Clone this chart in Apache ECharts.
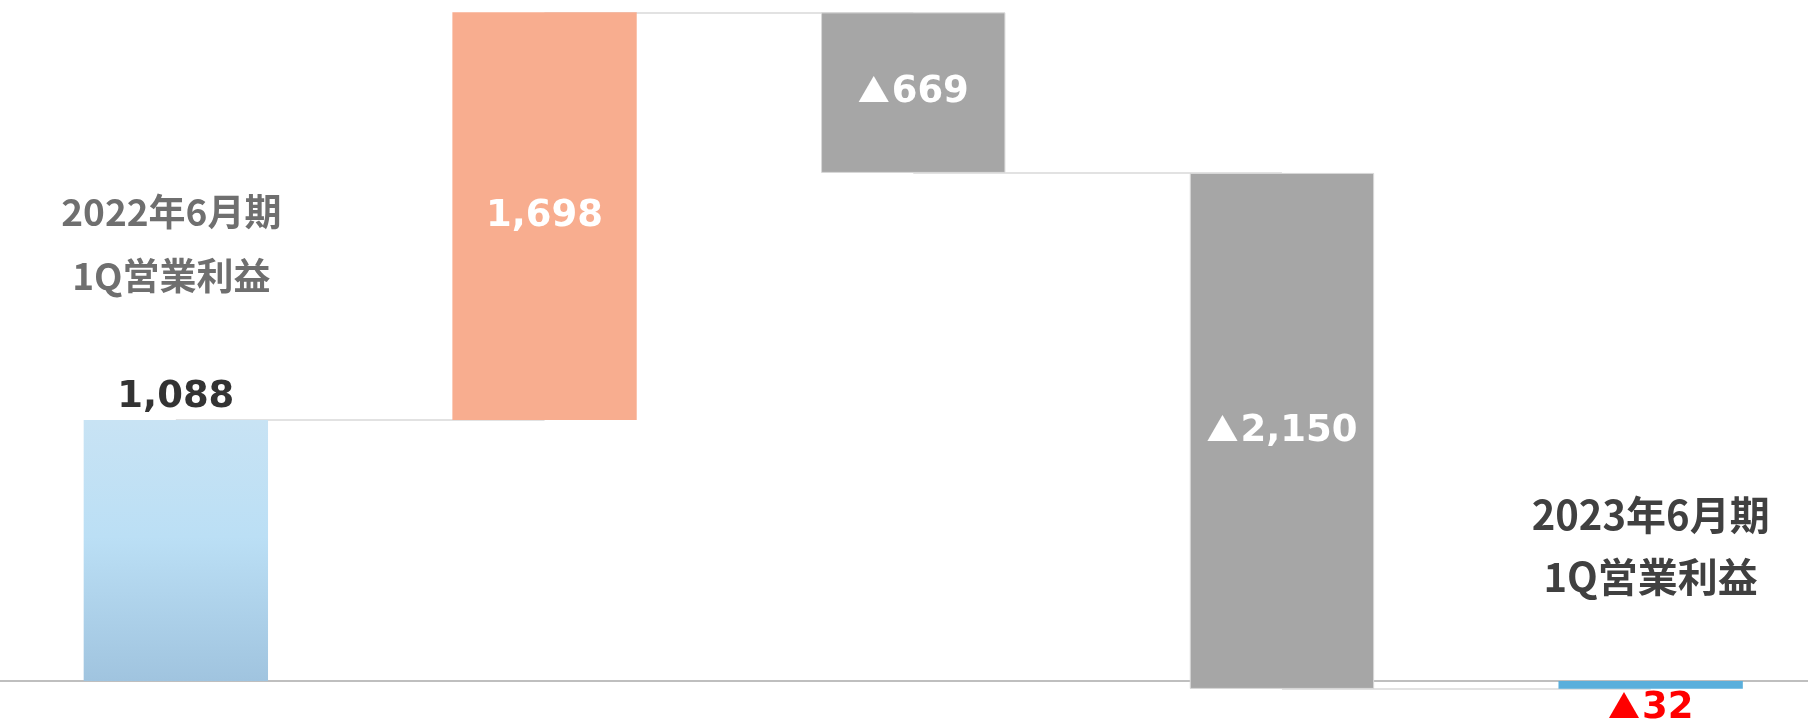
<!DOCTYPE html>
<html>
<head>
<meta charset="utf-8">
<style>
  html, body { margin: 0; padding: 0; background: #fff; }
  #chart { width: 1808px; height: 722px; }
</style>
<script src="https://cdn.jsdelivr.net/npm/echarts@6/dist/echarts.min.js"></script>
</head>
<body>
<div id="chart"></div>
<script>
// 営業利益の増減（百万円）
var categories = ['2022年6月期\n1Q営業利益', '増益要因', '減益要因A', '減益要因B', '2023年6月期\n1Q営業利益'];
var values = [1088, 1698, -669, -2150, -32];
var isTotal = [true, false, false, false, true];

var barColors = [
	{ type: 'linear', x: 0, y: 0, x2: 0, y2: 1, colorStops: [
		{ offset: 0, color: '#c8e3f4' }, { offset: 0.45, color: '#bbdff5' }, { offset: 1, color: '#a0c4df' }] },
	'#f8ad8f', '#a6a6a6', '#a6a6a6', '#5aafdc'
];

// マイナスは ▲ 表記
function fmt(v) {
	var s = Math.abs(v).toString().replace(/\B(?=(\d{3})+(?!\d))/g, ',');
	return v < 0 ? '{t|▲}{n|' + s + '}' : '{n|' + s + '}';
}

// 積み上げ用の下駄と見える棒
var baseData = [], barData = [], levels = [];
var running = 0;
for (var i = 0; i < values.length; i++) {
	if (isTotal[i]) {
		baseData.push(0);
		barData.push(values[i]);
		running = values[i];
	} else {
		var next = running + values[i];
		baseData.push(Math.min(running, next));
		barData.push(Math.abs(values[i]));
		running = next;
	}
	levels.push(running);
}
var connectors = [];
for (var j = 0; j < values.length - 1; j++) {
	connectors.push([{ coord: [j, levels[j]] }, { coord: [j + 1, levels[j]] }]);
}

function numRich(color) {
	return {
		t: { color: color, fontFamily: 'Noto Sans CJK JP', fontSize: 32, padding: [0, 2, 5, 0] },
		n: { color: color, fontFamily: 'DejaVu Sans', fontWeight: 'bold', fontSize: 37 }
	};
}

var myChart = echarts.init(document.getElementById('chart'));
myChart.setOption({
	animation: false,
	grid: { left: -8.5, right: -27, top: 9, bottom: 17, outerBoundsMode: 'none' },
	xAxis: {
		type: 'category',
		data: categories,
		axisLine: { lineStyle: { color: '#bfbfbf', width: 2 } },
		axisTick: { show: false },
		axisLabel: { show: false }
	},
	yAxis: {
		type: 'value',
		min: -100,
		max: 2800,
		show: false,
		splitLine: { show: false }
	},
	series: [{
		name: 'base',
		type: 'bar',
		stack: 'w',
		stackStrategy: 'all',
		barWidth: '50%',
		silent: true,
		itemStyle: { color: 'transparent' },
		data: baseData.map(function (v, i) {
			if (i !== values.length - 1) return v;
			return {
				value: v,
				label: {
					show: true,
					position: 'top',
					distance: 73,
					formatter: categories[i],
					color: '#404040',
					fontFamily: 'Noto Sans CJK JP',
					fontWeight: 'bold',
					fontSize: 40,
					lineHeight: 62
				}
			};
		}),
		markLine: {
			silent: true,
			symbol: 'none',
			z: 1,
			label: { show: false },
			lineStyle: { color: '#d9d9d9', width: 1.5, type: 'solid' },
			data: connectors
		}
	}, {
		name: 'value',
		type: 'bar',
		stack: 'w',
		stackStrategy: 'all',
		barWidth: '50%',
		z: 3,
		data: barData.map(function (v, i) {
			var item = { value: v, itemStyle: { color: barColors[i] } };
			if (i === 2 || i === 3) {
				item.itemStyle.borderColor = '#d9d9d9';
				item.itemStyle.borderWidth = 1;
			}
			if (i === 0) {
				var lines = categories[i].split('\n');
				var rich = numRich('#333333');
				rich.n.lineHeight = 44;
				rich.p = { color: '#6f6f6f', fontFamily: 'Noto Sans CJK JP', fontWeight: 'bold', fontSize: 37, lineHeight: 64, padding: [0, 9, 0, 0] };
				rich.g = { fontSize: 10, lineHeight: 68 };
				item.label = {
					show: true,
					position: 'top',
					distance: 0,
					formatter: '{p|' + lines[0] + '}\n{p|' + lines[1] + '}\n{g| }\n' + fmt(values[i]),
					rich: rich
				};
			} else if (i === values.length - 1) {
				item.label = { show: true, position: 'bottom', distance: 1, formatter: fmt(values[i]), rich: numRich('#ff0000') };
			} else {
				item.label = { show: true, position: 'inside', formatter: fmt(values[i]), rich: numRich('#ffffff') };
			}
			return item;
		})
	}]
});
window.addEventListener('resize', function () {
	myChart.resize();
});
</script>
</body>
</html>
